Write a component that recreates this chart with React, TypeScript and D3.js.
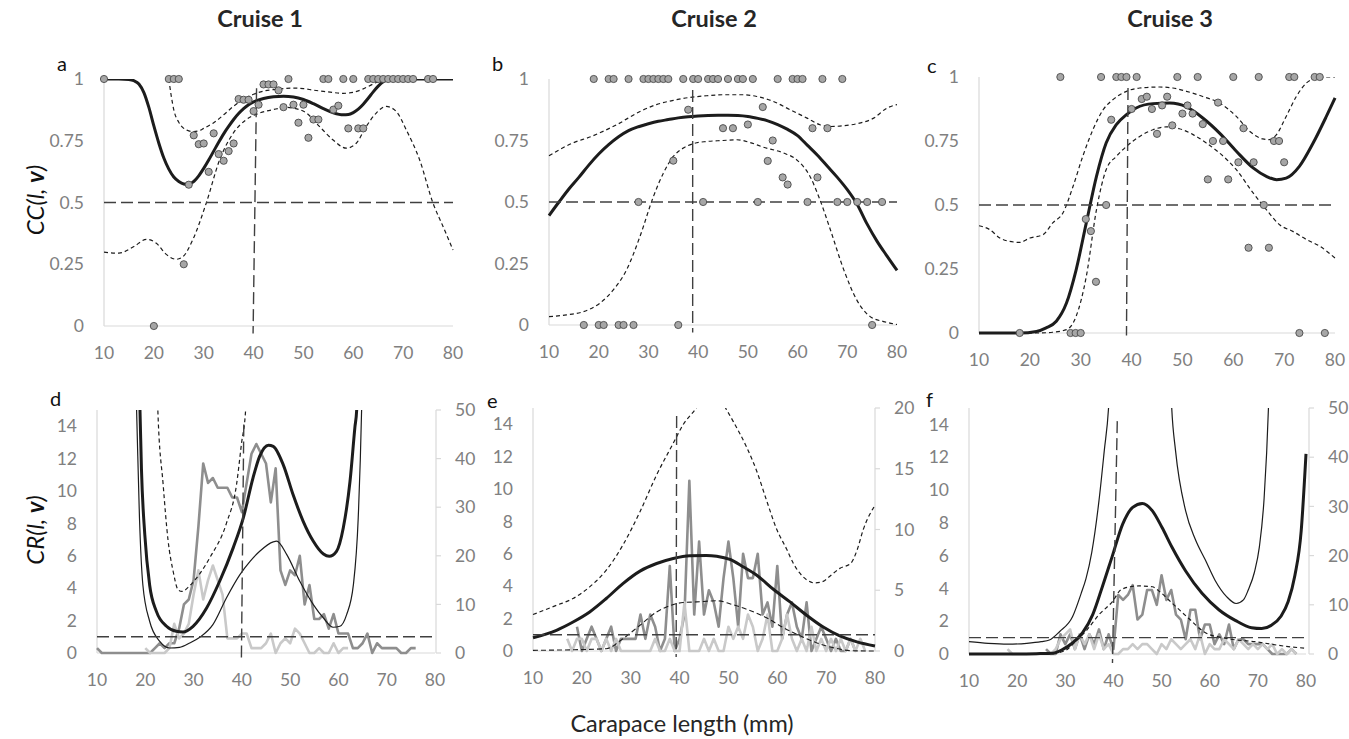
import * as d3 from 'd3';

type Pt = [number, number];
type Seg = [number, number, number, number];

// ---- ticks / labels
const cruises = ['Cruise 1', 'Cruise 2', 'Cruise 3'];
const xTicks = [10, 20, 30, 40, 50, 60, 70, 80];
const ccTicks = [0, 0.25, 0.5, 0.75, 1];
const crTicks = [0, 2, 4, 6, 8, 10, 12, 14];
const countTicks50 = [0, 10, 20, 30, 40, 50];
const countTicks20 = [0, 5, 10, 15, 20];

// ---- Cruise 1: observed CC points and fit (a)
const dots1: Pt[] = [
  [10, 1], [20, 0], [23, 1], [24, 1], [25, 1], [26, 0.25], [27, 0.572], [28, 0.772], [29, 0.736],
  [30, 0.739], [31, 0.624], [32, 0.78], [33, 0.696], [34, 0.669], [35, 0.708], [36, 0.739],
  [37, 0.919], [38, 0.916], [39, 0.916], [40, 0.87], [41, 0.896], [42, 0.978], [43, 0.978],
  [44, 0.978], [45, 0.954], [46, 0.886], [47, 1], [48, 0.896], [49, 0.823], [50, 0.896],
  [51, 0.762], [52, 0.836], [53, 0.836], [54, 1], [55, 1], [56, 0.876], [57, 0.892], [58, 1],
  [59, 0.8], [60, 1], [61, 0.8], [62, 0.8], [63, 1], [64, 1], [65, 1], [66, 1], [67, 1], [68, 1],
  [69, 1], [70, 1], [71, 1], [72, 1], [75, 1], [76, 1],
];
const cc1: Pt[] = [
  [10, 1], [13, 1], [15, 0.998], [16, 0.993], [17, 0.98], [18, 0.945], [19, 0.885], [20, 0.81],
  [21, 0.74], [22, 0.68], [23, 0.635], [24, 0.603], [25, 0.585], [26, 0.575], [27, 0.573],
  [28, 0.585], [29, 0.608], [30, 0.638], [31, 0.672], [32, 0.708], [33, 0.744], [34, 0.778],
  [35, 0.808], [36, 0.836], [37, 0.86], [38, 0.88], [39, 0.896], [40, 0.907], [42, 0.921],
  [44, 0.928], [46, 0.93], [48, 0.927], [50, 0.917], [52, 0.9], [54, 0.88], [56, 0.863],
  [58, 0.855], [59, 0.856], [60, 0.864], [61, 0.878], [62, 0.898], [63, 0.922], [64, 0.948],
  [65, 0.971], [66, 0.989], [67, 0.998], [68, 1], [80, 1],
];
const cc1Hi: Pt[] = [
  [23, 1], [23.5, 0.93], [24, 0.875], [25, 0.825], [26, 0.8], [27, 0.79], [28, 0.787], [29, 0.79],
  [30, 0.8], [32, 0.823], [34, 0.855], [36, 0.89], [38, 0.918], [40, 0.938], [42, 0.951],
  [44, 0.957], [46, 0.961], [48, 0.963], [50, 0.961], [52, 0.955], [54, 0.95], [56, 0.945],
  [58, 0.942], [60, 0.946], [62, 0.96], [64, 0.98], [66, 0.997], [67, 1], [80, 1],
];
const cc1Lo: Pt[] = [
  [10, 0.299], [13, 0.295], [16, 0.322], [18.5, 0.351], [20.5, 0.335], [22.5, 0.29], [24.5, 0.27],
  [25.8, 0.28], [27.8, 0.349], [30.5, 0.497], [33.2, 0.673], [35.9, 0.78], [38.5, 0.835],
  [41.2, 0.862], [43.9, 0.876], [46.6, 0.885], [48, 0.882], [50.6, 0.862], [53.2, 0.808],
  [55.9, 0.754], [58.6, 0.72], [60.6, 0.74], [62.6, 0.808], [64.6, 0.862], [66.6, 0.889],
  [68.6, 0.869], [70.6, 0.795], [73.3, 0.673], [76, 0.497], [78, 0.403], [80, 0.308],
];

// ---- Cruise 2 (b)
const dots2: Pt[] = [
  [19, 1], [22, 1], [23, 1], [26, 1], [29, 1], [30, 1], [31, 1], [32, 1], [33, 1], [34, 1], [37, 1],
  [39, 1], [40, 1], [42, 1], [43, 1], [44, 1], [46, 1], [48, 1], [49, 1], [51, 1], [56, 1], [59, 1],
  [60, 1], [61, 1], [65, 1], [69, 1],
  [38, 0.875], [35, 0.668], [28, 0.5], [41, 0.5], [45, 0.8], [47, 0.8], [50, 0.815], [52, 0.5],
  [53, 0.886], [54, 0.667], [55, 0.75], [57, 0.6], [58, 0.571], [62, 0.5], [63, 0.8], [64, 0.6],
  [66, 0.8], [68, 0.5], [70, 0.5], [72, 0.5], [74, 0.5], [77, 0.5],
  [17, 0], [20, 0], [21, 0], [24, 0], [25, 0], [27, 0], [36, 0], [75, 0],
];
const cc2: Pt[] = [
  [10, 0.445], [12, 0.5], [14, 0.553], [16, 0.6], [18, 0.65], [20, 0.695], [22, 0.733],
  [24, 0.765], [26, 0.79], [28, 0.806], [30, 0.818], [32, 0.828], [34, 0.835], [36, 0.842],
  [38, 0.847], [40, 0.85], [42, 0.852], [44, 0.853], [46, 0.853], [48, 0.852], [50, 0.848],
  [52, 0.84], [54, 0.83], [56, 0.815], [58, 0.795], [60, 0.77], [62, 0.73], [64, 0.69],
  [66, 0.645], [68, 0.6], [70, 0.55], [72, 0.49], [74, 0.41], [76, 0.34], [78, 0.28], [80, 0.222],
];
const cc2Hi: Pt[] = [
  [10, 0.688], [14.8, 0.74], [18.2, 0.764], [23.6, 0.814], [28.3, 0.868], [31.6, 0.896],
  [35, 0.913], [38.3, 0.925], [41.7, 0.932], [45, 0.936], [49.1, 0.936], [51.8, 0.929],
  [55.1, 0.909], [58.5, 0.875], [61.9, 0.841], [64.5, 0.814], [66.6, 0.807], [69.3, 0.81],
  [71.9, 0.818], [75.3, 0.841], [78, 0.882], [80, 0.896],
];
const cc2Lo: Pt[] = [
  [10, 0.034], [13.5, 0.041], [16.9, 0.054], [20.2, 0.088], [22.9, 0.142], [25.6, 0.224],
  [28.3, 0.36], [31, 0.522], [33, 0.617], [35, 0.685], [37, 0.719], [39, 0.737], [41.7, 0.746],
  [45, 0.75], [47.8, 0.753], [50.4, 0.742], [53.1, 0.723], [57.2, 0.699], [59.8, 0.672],
  [62.5, 0.604], [64.5, 0.509], [66.6, 0.387], [69.3, 0.224], [71.9, 0.102], [74.6, 0.034],
  [77.3, 0.014], [80, 0.002],
];

// ---- Cruise 3 (c)
const dots3: Pt[] = [
  [26, 1], [34, 1], [37, 1], [38, 1], [39, 1], [41, 1], [49, 1], [53, 1], [60, 1], [65, 1], [71, 1],
  [72, 1], [76, 1], [77, 1],
  [18, 0], [28, 0], [29, 0], [30, 0], [73, 0], [78, 0],
  [31, 0.445], [32, 0.398], [33, 0.2], [35, 0.5], [36, 0.833], [40, 0.875], [42, 0.914],
  [43, 0.923], [44, 0.875], [45, 0.778], [46, 0.889], [47, 0.923], [48, 0.811], [50, 0.857],
  [51, 0.889], [52, 0.857], [54, 0.816], [55, 0.6], [56, 0.75], [57, 0.9], [58, 0.75], [59, 0.6],
  [61, 0.667], [62, 0.8], [63, 0.333], [64, 0.667], [66, 0.5], [67, 0.333], [68, 0.75],
  [69, 0.75], [70, 0.667],
];
const cc3: Pt[] = [
  [10, 0], [18, 0], [21.3, 0.006], [23.2, 0.02], [25.2, 0.046], [27.2, 0.117], [29.1, 0.247],
  [31.1, 0.43], [33.1, 0.612], [35, 0.742], [37, 0.814], [39, 0.853], [40.9, 0.879], [44.2, 0.896],
  [47.5, 0.898], [50.8, 0.883], [54, 0.84], [57.3, 0.781], [60.6, 0.71], [63.9, 0.645],
  [66.5, 0.612], [68.5, 0.599], [70.4, 0.605], [73, 0.651], [75.7, 0.742], [78.3, 0.846],
  [80, 0.918],
];
const cc3Hi: Pt[] = [
  [10, 0.419], [12.1, 0.404], [14.1, 0.371], [16, 0.358], [18, 0.354], [20, 0.371], [22.6, 0.384],
  [24.5, 0.43], [26.5, 0.469], [28.5, 0.573], [30.4, 0.69], [32.4, 0.794], [34.4, 0.872],
  [36.3, 0.911], [39, 0.944], [41.6, 0.957], [45.5, 0.961], [48.1, 0.957], [50.8, 0.944],
  [54, 0.924], [57.3, 0.898], [60.6, 0.846], [63.2, 0.788], [65.8, 0.758], [67.1, 0.755],
  [68.5, 0.775], [70.4, 0.846], [72.4, 0.924], [74.4, 0.977], [76.3, 0.996], [78.3, 1], [80, 1],
];
const cc3Lo: Pt[] = [
  [10, 0], [21.3, 0], [24.5, 0.003], [27.2, 0.013], [29.1, 0.065], [31.1, 0.221], [33.1, 0.482],
  [35, 0.638], [37, 0.69], [39, 0.729], [41.6, 0.768], [44.2, 0.794], [46.8, 0.805], [49.4, 0.798],
  [52.1, 0.775], [54.7, 0.742], [57.3, 0.703], [60.6, 0.638], [63.9, 0.547], [66.5, 0.482],
  [69.1, 0.423], [71.7, 0.397], [74.4, 0.365], [77, 0.339], [80, 0.293],
];

// ---- CR curves (d, e, f); values above 15 run off the top of the plot
const cr1: Pt[] = [
  [18.5, 18], [18.9, 15], [19.2, 11.4], [19.9, 7.3], [20.9, 4.2], [22.3, 2.57], [24.4, 1.65],
  [26.4, 1.34], [27.8, 1.3], [29.9, 1.65], [32.7, 2.78], [35.4, 4.43], [38.2, 6.49], [40.3, 8.34],
  [42.3, 10.8], [43.7, 12.15], [45.5, 12.83], [46.5, 12.76], [48.6, 11.6], [50.6, 9.78],
  [52.7, 8.13], [54.8, 6.9], [56.9, 6.11], [58.1, 5.97], [59.6, 6.28], [61, 7.72], [62.4, 10.6],
  [63.4, 13.9], [63.8, 15.1], [64.1, 18],
];
const cr1Thin: Pt[] = [
  [17.9, 18], [18.2, 15], [18.8, 8.3], [19.5, 4.2], [20.9, 1.96], [23, 0.72], [25.1, 0.31],
  [27.1, 0.35], [29.2, 0.62], [31.3, 0.97], [34, 1.75], [36.8, 3.4], [39.6, 4.84], [41.7, 5.66],
  [43.7, 6.28], [46.5, 6.86], [47.2, 6.9], [49.3, 6.07], [52, 4.43], [54.8, 2.99], [56.9, 2.16],
  [58.9, 1.59], [60.3, 1.65], [61.7, 2.37], [63.1, 4.22], [64.1, 8.34], [64.8, 15], [65, 18],
];
const cr1Dash: Pt[] = [
  [22.4, 18], [22.6, 15], [23.7, 10.4], [24.7, 7.0], [25.8, 5.0], [26.8, 3.9], [27.6, 3.8],
  [29.2, 4.15], [31.3, 4.9], [33.4, 5.9], [36.8, 8.0], [38.9, 10.4], [39.9, 12.87], [40.8, 15.1],
  [41.1, 18],
];
const cr2: Pt[] = [
  [10, 0.82], [14.8, 1.28], [18.2, 1.79], [21.6, 2.41], [25, 3.24], [28.4, 4.16], [31.9, 4.93],
  [35.3, 5.4], [38.7, 5.71], [42.1, 5.88], [45.5, 5.9], [47.6, 5.85], [50.3, 5.65], [53, 5.2],
  [55.8, 4.68], [59.2, 3.81], [62.6, 3.03], [66, 2.21], [69.4, 1.48], [72.8, 0.93], [76.3, 0.56],
  [80, 0.31],
];
const cr2Hi: Pt[] = [
  [10, 2.25], [14.8, 2.82], [18.2, 3.24], [21.6, 3.96], [25, 4.99], [28.4, 6.54], [31.9, 8.6],
  [35.3, 10.87], [38.7, 12.82], [40.7, 13.96], [43.5, 15.03], [46.5, 16.5], [49.6, 14.9],
  [51, 14.16], [53.7, 12.6], [55.8, 11.1], [57.8, 9.3], [59.9, 7.5], [61.9, 6.3], [63.3, 5.4],
  [66, 4.4], [67.7, 4.2], [69.4, 4.3], [70.5, 4.55], [72.8, 5.1], [75, 5.4], [76.3, 6.2],
  [77.6, 7.5], [80, 9.0],
];
const cr2Lo: Pt[] = [
  [10, 0.04], [25, 0.14], [28.4, 0.76], [31.9, 1.59], [35.3, 2.41], [38, 2.8], [40.7, 2.99],
  [43.5, 3.03], [47.6, 3.1], [51, 2.85], [54.4, 2.5], [57.8, 2.05], [61.2, 1.45], [64.6, 0.95],
  [68.1, 0.5], [71.5, 0.2], [75, 0.02], [80, 0],
];
const cr3: Pt[] = [
  [10, 0], [18, 0], [24, 0.02], [27.4, 0.05], [29.4, 0.27], [31.5, 0.67], [33.6, 1.3],
  [35.7, 2.4], [37.7, 4.1], [39.8, 6.0], [41.9, 7.9], [44, 8.94], [46, 9.18], [48.1, 8.73],
  [50.1, 7.71], [52.2, 6.49], [55, 5.06], [58.4, 3.7], [61.9, 2.7], [65.3, 2.05], [68.7, 1.6],
  [70.8, 1.55], [72.8, 1.75], [74.8, 2.3], [76.3, 3.2], [77.7, 4.8], [79, 7.5], [80, 12.2],
];
const cr3Thin: Pt[] = [
  [10, 0.75], [14, 0.65], [18, 0.6], [22, 0.65], [25, 0.75], [26.7, 0.85], [28.8, 1.36],
  [31.5, 2.27], [33.3, 3.7], [34.3, 4.6], [35.5, 6.2], [37, 9.35], [38.1, 12.4], [39, 15.06],
  [39.5, 18], [45.5, 30], [51.7, 18], [52.1, 15.06], [52.9, 12.4], [55, 8.73], [57, 7.0],
  [59.1, 5.73], [61.1, 4.5], [63.5, 3.5], [65.5, 3.08], [67, 3.3], [68, 3.9], [69.3, 5],
  [70.3, 6.5], [71.3, 9.5], [72.2, 15], [72.5, 18],
];
const cr3Dash: Pt[] = [
  [10, 0], [26, 0], [28.5, 0.08], [30.2, 0.24], [32.2, 0.8], [34.3, 1.4], [37, 2.4], [39.8, 3.2],
  [41.5, 3.9], [43.5, 4.1], [45.3, 4.15], [48.1, 4.1], [49.4, 3.85], [52.2, 3.1], [55.6, 2.18],
  [59.1, 1.3], [63.2, 0.96], [69.4, 0.75], [76.3, 0.45], [80, 0.35],
];

// ---- counts per 1-mm class (right axis); first value is at the start length
const darkStart1 = 10;
const dark1 = [
  1, 0, 0, 0, 0, 0, 0, 0, 0, 0, 0, 0, 1, 2, 1, 2, 2, 5, 10, 11, 15, 26, 39, 35, 36, 34, 34, 34, 32,
  32, 29, 35, 41, 43, 41, 39, 31, 38, 17, 14, 17, 16, 20, 10, 14, 7, 7, 8, 5, 8, 4, 4, 4, 1, 1, 2,
  4, 0, 2, 1, 1, 1, 1, 0, 0, 1, 1,
];
const lightStart1 = 20;
const light1 = [
  1, 0, 0, 0, 0, 1, 6, 3, 4, 6, 12, 17, 11, 15, 18, 15, 12, 3, 3, 3, 4, 4, 1, 1, 1, 2, 4, 0, 2, 3,
  2, 5, 4, 2, 0, 0, 1, 0, 0, 2, 0, 1, 1,
];
const darkStart2 = 19;
const dark2 = [
  2, 0, 1, 2, 1, 0, 1, 2, 0, 1, 1, 1, 1, 3, 1, 3, 2, 0, 1, 7, 0, 1, 3, 14, 3, 9, 3, 5, 4, 2, 6, 9,
  6, 2, 8, 6, 6, 8, 3, 4, 2, 7, 1, 3, 4, 2, 1, 4, 0, 1, 2, 1, 0, 1, 0, 0, 1, 0,
];
const lightStart2 = 17;
const light2 = [
  1, 0, 1, 1, 0, 1, 1, 0, 1, 0, 1, 0, 0, 0, 0, 0, 0, 0, 1, 0, 0, 1, 0, 0, 4, 0, 0, 0, 1, 0, 1, 0, 0,
  2, 1, 2, 1, 3, 2, 0, 1, 3, 0, 0, 1, 3, 1, 0, 1, 0, 2, 0, 1, 0, 1, 0, 1, 0, 1, 0, 1, 0,
];
const darkStart3 = 26;
const dark3 = [
  1, 0, 0, 4, 2, 4, 1, 4, 1, 4, 2, 5, 1, 4, 1, 12, 11, 12, 14, 7, 8, 13, 13, 10, 16, 11, 13, 8, 7,
  3, 9, 9, 3, 6, 6, 2, 4, 2, 6, 1, 3, 3, 2, 2, 2, 2, 1, 0, 0, 0, 0, 1, 0,
];
const lightStart3 = 18;
const light3 = [
  1, 0, 0, 0, 0, 0, 0, 0, 0, 0, 1, 3, 4, 5, 1, 4, 2, 4, 1, 4, 1, 2, 0, 0, 1, 1, 2, 1, 2, 2, 1, 0, 2,
  1, 3, 2, 1, 2, 3, 1, 4, 0, 2, 1, 1, 3, 2, 1, 3, 2, 1, 2, 1, 2, 1, 2, 0, 1, 0, 1, 0,
];

// ---- reference lines: [x at top, y at top, x at bottom, y at bottom]
const vRefA: Seg = [40.6, 0.963, 39.9, -0.03];
const vRefB: Seg = [38.9, 0.955, 38.9, -0.03];
const vRefC: Seg = [39.3, 0.957, 39.0, -0.01];
const vRefD: Seg = [40.4, 14.1, 39.9, -0.5];
const vRefE: Seg = [39.4, 14.5, 39.3, -0.37];
const vRefF: Seg = [40.8, 14.2, 39.8, -0.55];
const ccRef = 0.5;
const crRef = 1;

// ---- styling
const FONT = 'Lato, "Open Sans", sans-serif';
const TICK = '#808080';
const AXIS = '#d9d9d9';
const INK = '#1c1c1c';
const REF = '#404040';
const DARK_GREY = '#8e8e8e';
const LIGHT_GREY = '#c9c9c9';
const TICK_SIZE = 17.5;

type Kind = 'thick' | 'thin' | 'dash' | 'dash2';
const curveStyle: Record<Kind, { w: number; dash?: string }> = {
  thick: { w: 3 },
  thin: { w: 1.2 },
  dash: { w: 1.2, dash: '4 3' },
  dash2: { w: 1.1, dash: '5 3' },
};

interface Frame {
  x0: number;
  x1: number;
  yTop: number;
  yBot: number;
  letter: string;
  lx: number;
  ly: number;
}

interface PanelProps {
  id: string;
  frame: Frame;
  yMax: number;
  yTicks: number[];
  rMax?: number;
  rTicks?: number[];
  rX?: number;
  curves: { data: Pt[]; kind: Kind }[];
  dots?: Pt[];
  counts?: { start: number; values: number[]; color: string }[];
  hRef: number;
  vRef: Seg;
}

function Panel({ id, frame, yMax, yTicks, rMax, rTicks, rX, curves, dots, counts, hRef, vRef }: PanelProps) {
  const x = d3.scaleLinear().domain([10, 80]).range([frame.x0, frame.x1]);
  const y = d3.scaleLinear().domain([0, yMax]).range([frame.yBot, frame.yTop]);
  const yr = d3.scaleLinear().domain([0, rMax ?? 1]).range([frame.yBot, frame.yTop]);
  const smooth = d3
    .line<Pt>()
    .x((d) => x(d[0]))
    .y((d) => y(d[1]))
    .curve(d3.curveMonotoneX);
  const zig = d3
    .line<Pt>()
    .x((d) => x(d[0]))
    .y((d) => yr(d[1]));
  const rightX = rX ?? frame.x1;

  return (
    <g>
      <defs>
        <clipPath id={id}>
          <rect x={frame.x0 - 3} y={frame.yTop} width={frame.x1 - frame.x0 + 6} height={frame.yBot - frame.yTop + 30} />
        </clipPath>
      </defs>

      {/* axes */}
      <line x1={frame.x0} x2={frame.x0} y1={y(0)} y2={frame.yTop} stroke={AXIS} strokeWidth={1.2} />
      <line x1={frame.x0} x2={frame.x1} y1={y(0)} y2={y(0)} stroke={AXIS} strokeWidth={1.2} />
      {rMax !== undefined && (
        <g>
          <line x1={rightX} x2={rightX} y1={yr(0)} y2={yr(rMax)} stroke={AXIS} strokeWidth={1.2} />
          {rTicks!.map((t) => (
            <line key={t} x1={rightX} x2={rightX + 5} y1={yr(t)} y2={yr(t)} stroke={AXIS} strokeWidth={1.2} />
          ))}
          {rTicks!.map((t) => (
            <text key={t} x={rightX + 19} y={yr(t)} dy="0.35em" fontSize={TICK_SIZE} fill={TICK}>
              {t}
            </text>
          ))}
        </g>
      )}
      {yTicks.map((t) => (
        <text key={t} x={frame.x0 - 20} y={y(t)} dy="0.35em" textAnchor="end" fontSize={TICK_SIZE} fill={TICK}>
          {t}
        </text>
      ))}
      {xTicks.map((t) => (
        <text key={t} x={x(t)} y={frame.yBot + 27} dy="0.35em" textAnchor="middle" fontSize={TICK_SIZE} fill={TICK}>
          {t}
        </text>
      ))}

      <text x={frame.lx} y={frame.ly} dy="0.35em" fontSize={20} fill="#111">
        {frame.letter}
      </text>

      <g clipPath={`url(#${id})`}>
        {counts?.map((c, i) => (
          <path
            key={i}
            d={zig(c.values.map((v, k) => [c.start + k, v] as Pt)) ?? ''}
            fill="none"
            stroke={c.color}
            strokeWidth={2.6}
            strokeLinejoin="round"
          />
        ))}
        {curves.map((c, i) => (
          <path
            key={i}
            d={smooth(c.data) ?? ''}
            fill="none"
            stroke={INK}
            strokeWidth={curveStyle[c.kind].w}
            strokeDasharray={curveStyle[c.kind].dash}
          />
        ))}
      </g>

      <line x1={x(10)} x2={x(80)} y1={y(hRef)} y2={y(hRef)} stroke={REF} strokeWidth={1.4} strokeDasharray="12 5" />
      <line x1={x(vRef[0])} x2={x(vRef[2])} y1={y(vRef[1])} y2={y(vRef[3])} stroke={REF} strokeWidth={1.4} strokeDasharray="12 5" />

      {dots?.map((d, i) => (
        <circle key={i} cx={x(d[0])} cy={y(d[1])} r={3.6} fill="#a6a6a6" stroke="#4a4a4a" strokeWidth={0.9} />
      ))}
    </g>
  );
}

const frames: Frame[] = [
  { x0: 104, x1: 453, yTop: 79, yBot: 326, letter: 'a', lx: 57, ly: 64 },
  { x0: 549, x1: 897, yTop: 79, yBot: 325, letter: 'b', lx: 492, ly: 64 },
  { x0: 979, x1: 1335, yTop: 77, yBot: 333, letter: 'c', lx: 927, ly: 66 },
  { x0: 97, x1: 435, yTop: 410, yBot: 653, letter: 'd', lx: 50, ly: 399 },
  { x0: 533, x1: 875, yTop: 408, yBot: 651, letter: 'e', lx: 487, ly: 401 },
  { x0: 969, x1: 1306, yTop: 408, yBot: 654, letter: 'f', lx: 926, ly: 400 },
];
const titleX = [260, 714, 1170];

export default function App() {
  return (
    <svg
      width={1349}
      height={739}
      style={{ position: 'absolute', left: 0, top: 0, background: '#fff' }}
      fontFamily={FONT}
    >
      {cruises.map((c, i) => (
        <text key={c} x={titleX[i]} y={19} dy="0.35em" textAnchor="middle" fontSize={23.5} fontWeight={700} fill="#262626">
          {c}
        </text>
      ))}

      <text transform="translate(36,200) rotate(-90)" textAnchor="middle" dy="0.35em" fontSize={24} fill="#111" fontStyle="italic">
        CC(l, <tspan fontWeight={700}>v</tspan>)
      </text>
      <text transform="translate(36,530) rotate(-90)" textAnchor="middle" dy="0.35em" fontSize={24} fill="#111" fontStyle="italic">
        CR(l, <tspan fontWeight={700}>v</tspan>)
      </text>
      <text x={682} y={724} dy="0.35em" textAnchor="middle" fontSize={23.5} fill="#262626">
        Carapace length (mm)
      </text>

      <Panel id="pa" frame={frames[0]} yMax={1} yTicks={ccTicks} hRef={ccRef} vRef={vRefA} dots={dots1}
        curves={[{ data: cc1Lo, kind: 'dash' }, { data: cc1Hi, kind: 'dash' }, { data: cc1, kind: 'thick' }]} />
      <Panel id="pb" frame={frames[1]} yMax={1} yTicks={ccTicks} hRef={ccRef} vRef={vRefB} dots={dots2}
        curves={[{ data: cc2Lo, kind: 'dash' }, { data: cc2Hi, kind: 'dash' }, { data: cc2, kind: 'thick' }]} />
      <Panel id="pc" frame={frames[2]} yMax={1} yTicks={ccTicks} hRef={ccRef} vRef={vRefC} dots={dots3}
        curves={[{ data: cc3Lo, kind: 'dash' }, { data: cc3Hi, kind: 'dash' }, { data: cc3, kind: 'thick' }]} />

      <Panel id="pd" frame={frames[3]} yMax={15} yTicks={crTicks} rMax={50} rTicks={countTicks50} rX={436}
        hRef={crRef} vRef={vRefD}
        counts={[{ start: darkStart1, values: dark1, color: DARK_GREY }, { start: lightStart1, values: light1, color: LIGHT_GREY }]}
        curves={[{ data: cr1Thin, kind: 'thin' }, { data: cr1Dash, kind: 'dash' }, { data: cr1, kind: 'thick' }]} />
      <Panel id="pe" frame={frames[4]} yMax={15} yTicks={crTicks} rMax={20} rTicks={countTicks20} rX={875}
        hRef={crRef} vRef={vRefE}
        counts={[{ start: darkStart2, values: dark2, color: DARK_GREY }, { start: lightStart2, values: light2, color: LIGHT_GREY }]}
        curves={[{ data: cr2Lo, kind: 'dash2' }, { data: cr2Hi, kind: 'dash' }, { data: cr2, kind: 'thick' }]} />
      <Panel id="pf" frame={frames[5]} yMax={15} yTicks={crTicks} rMax={50} rTicks={countTicks50} rX={1309}
        hRef={crRef} vRef={vRefF}
        counts={[{ start: darkStart3, values: dark3, color: DARK_GREY }, { start: lightStart3, values: light3, color: LIGHT_GREY }]}
        curves={[{ data: cr3Thin, kind: 'thin' }, { data: cr3Dash, kind: 'dash' }, { data: cr3, kind: 'thick' }]} />
    </svg>
  );
}
